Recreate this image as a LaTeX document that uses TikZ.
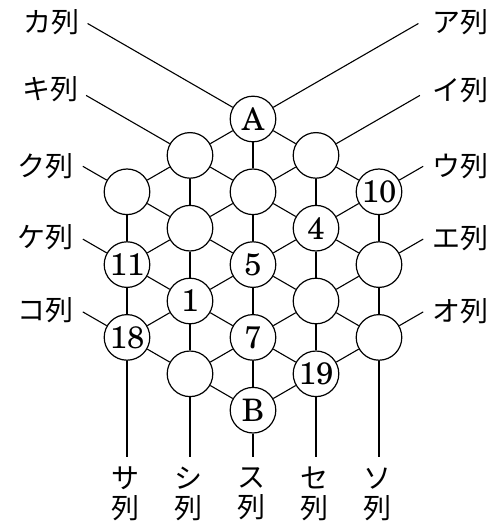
\documentclass[tikz,border=0pt]{standalone}
\usepackage{fontspec}
\newfontfamily\jp{Noto Sans CJK JP}
\newfontfamily\numfont{texgyreschola-regular.otf}
\usetikzlibrary{calc}
\begin{document}
\begin{tikzpicture}[x=1pt,y=-1pt,
  cell/.style={circle,draw,fill=white,line width=1.2pt,minimum size=45.6pt,
    inner sep=0pt,font=\numfont\fontsize{31}{31}\selectfont},
  link/.style={line width=1.1pt},
  lab/.style={font=\jp\fontsize{28}{30}\selectfont,inner sep=0pt,align=center},
]
\useasboundingbox (0,0) rectangle (502,529);

% lattice of circles: columns 63pt apart, half-rows 36.4pt apart
\node[cell] (A)   at (253,119)   {A};
\node[cell] (n11) at (190,155.4) {};
\node[cell] (n12) at (316,155.4) {};
\node[cell] (n21) at (127,191.8) {};
\node[cell] (n22) at (253,191.8) {};
\node[cell] (n23) at (379,191.8) {10};
\node[cell] (n31) at (190,228.2) {};
\node[cell] (n32) at (316,228.2) {4};
\node[cell] (n41) at (127,264.6) {11};
\node[cell] (n42) at (253,264.6) {5};
\node[cell] (n43) at (379,264.6) {};
\node[cell] (n51) at (190,301)   {1};
\node[cell] (n52) at (316,301)   {};
\node[cell] (n61) at (127,337.4) {18};
\node[cell] (n62) at (253,337.4) {7};
\node[cell] (n63) at (379,337.4) {};
\node[cell] (n71) at (190,373.8) {};
\node[cell] (n72) at (316,373.8) {19};
\node[cell] (B)   at (253,410.2) {B};

% free ends of the row lines
\coordinate (kaS) at ($(A)+(-165.4,-95.5)$);
\coordinate (kiS) at ($(n11)+(-103.9,-60)$);
\coordinate (kuS) at ($(n21)+(-44.2,-25.5)$);
\coordinate (keS) at ($(n41)+(-44.2,-25.5)$);
\coordinate (koS) at ($(n61)+(-44.2,-25.5)$);
\coordinate (aS)  at ($(A)+(165.4,-95.5)$);
\coordinate (iS)  at ($(n12)+(103.9,-60)$);
\coordinate (uS)  at ($(n23)+(44.2,-25.5)$);
\coordinate (eS)  at ($(n43)+(44.2,-25.5)$);
\coordinate (oS)  at ($(n63)+(44.2,-25.5)$);
\coordinate (saE)  at (127,457);
\coordinate (shiE) at (190,457);
\coordinate (suE)  at (253,457);
\coordinate (seE)  at (316,457);
\coordinate (soE)  at (379,457);

% lines falling to the right
\draw[link] (kaS) -- (A) -- (n12) -- (n23);
\draw[link] (kiS) -- (n11) -- (n22) -- (n32) -- (n43);
\draw[link] (kuS) -- (n21) -- (n31) -- (n42) -- (n52) -- (n63);
\draw[link] (keS) -- (n41) -- (n51) -- (n62) -- (n72);
\draw[link] (koS) -- (n61) -- (n71) -- (B);
% lines rising to the right
\draw[link] (aS) -- (A) -- (n11) -- (n21);
\draw[link] (iS) -- (n12) -- (n22) -- (n31) -- (n41);
\draw[link] (uS) -- (n23) -- (n32) -- (n42) -- (n51) -- (n61);
\draw[link] (eS) -- (n43) -- (n52) -- (n62) -- (n71);
\draw[link] (oS) -- (n63) -- (n72) -- (B);
% vertical lines
\draw[link] (n21) -- (n41) -- (n61) -- (saE);
\draw[link] (n11) -- (n31) -- (n51) -- (n71) -- (shiE);
\draw[link] (A) -- (n22) -- (n42) -- (n62) -- (B) -- (suE);
\draw[link] (n12) -- (n32) -- (n52) -- (n72) -- (seE);
\draw[link] (n23) -- (n43) -- (n63) -- (soE);

% labels
\node[lab] (kaL) at (51,22)  {カ列};
\node[lab] (kiL) at (50,89)  {キ列};
\node[lab] (kuL) at (45,166) {ク列};
\node[lab] (keL) at (45,237) {ケ列};
\node[lab] (koL) at (45,310) {コ列};
\node[lab] (aL)  at (460,22)  {ア列};
\node[lab] (iL)  at (460,90)  {イ列};
\node[lab] (uL)  at (460,166) {ウ列};
\node[lab] (eL)  at (460,238) {エ列};
\node[lab] (oL)  at (460,311) {オ列};
\node[lab] (saL)  at (125,494) {サ\\列};
\node[lab] (shiL) at (188,494) {シ\\列};
\node[lab] (suL)  at (251,494) {ス\\列};
\node[lab] (seL)  at (314,494) {セ\\列};
\node[lab] (soL)  at (377,494) {ソ\\列};
\end{tikzpicture}
\end{document}
